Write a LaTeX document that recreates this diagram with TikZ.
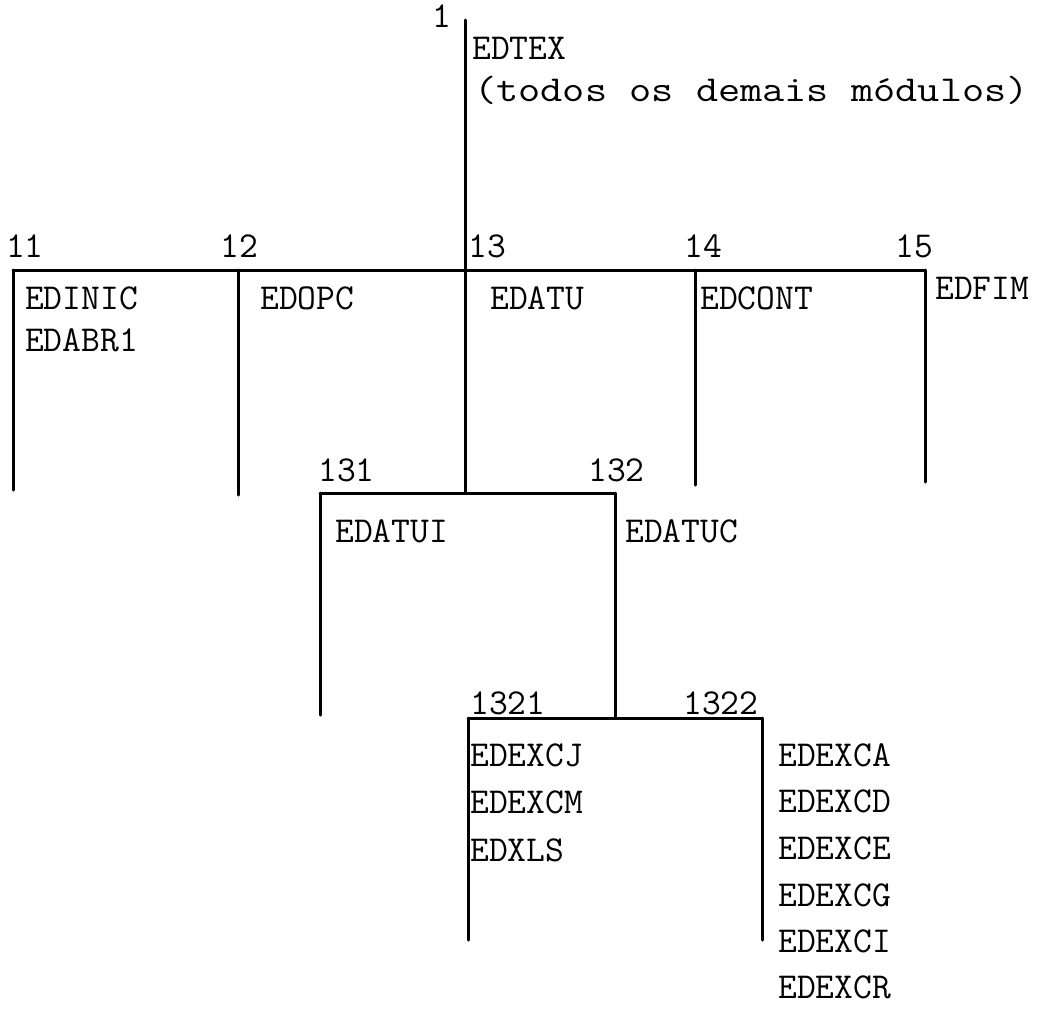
\documentclass[tikz,border=0pt]{standalone}
\begin{document}
\begin{tikzpicture}[x=1pt,y=-1pt,
  lbl/.style={font=\ttfamily\fontsize{36.5}{36.5}\selectfont, inner sep=0pt, anchor=west},
  ln/.style={line width=3pt, line cap=round}]
\useasboundingbox (0,0) rectangle (1040,1009);
% junction coordinates
\coordinate (t1) at (465,20);
\coordinate (j1) at (465,270);
\coordinate (h11) at (13,270);
\coordinate (h12) at (238,270);
\coordinate (h14) at (695,270);
\coordinate (h15) at (925,270);
\coordinate (e11) at (13,490);
\coordinate (e12) at (238,495);
\coordinate (e14) at (695,485);
\coordinate (e15) at (925,482);
\coordinate (j13) at (465,493);
\coordinate (h131) at (320,493);
\coordinate (h132) at (615,493);
\coordinate (e131) at (320,715);
\coordinate (j132) at (615,718);
\coordinate (h1321) at (468,718);
\coordinate (h1322) at (762,718);
\coordinate (e1321) at (468,940);
\coordinate (e1322) at (762,940);
% lines
\draw[ln] (t1) -- (j1) -- (j13);
\draw[ln] (h11) -- (h15);
\draw[ln] (h11) -- (e11);
\draw[ln] (h12) -- (e12);
\draw[ln] (h14) -- (e14);
\draw[ln] (h15) -- (e15);
\draw[ln] (h131) -- (h132);
\draw[ln] (h131) -- (e131);
\draw[ln] (h132) -- (j132);
\draw[ln] (h1321) -- (h1322);
\draw[ln] (h1321) -- (e1321);
\draw[ln] (h1322) -- (e1322);
% labels
\node[lbl] (n1) at (432,16) {1};
\node[lbl] (edtex) at (472,48) {EDTEX};
\node[lbl] (todos) at (474,90) {\scalebox{1.18}[1]{(todos os demais módulos)}};
\node[lbl] (n11) at (6,246) {11};
\node[lbl] (n12) at (220,246) {12};
\node[lbl] (n13) at (468,246) {13};
\node[lbl] (n14) at (684,246) {14};
\node[lbl] (n15) at (895,246) {15};
\node[lbl] (edinic) at (25,298) {EDINIC};
\node[lbl] (edabr) at (25,340) {EDABR1};
\node[lbl] (edopc) at (260,298) {EDOPC};
\node[lbl] (edatu) at (490,298) {EDATU};
\node[lbl] (edcont) at (700,298) {EDCONT};
\node[lbl] (edfim) at (935,288) {EDFIM};
\node[lbl] (n131) at (318,470) {131};
\node[lbl] (n132) at (588,470) {132};
\node[lbl] (edatui) at (335,531) {EDATUI};
\node[lbl] (edatuc) at (625,531) {EDATUC};
\node[lbl] (n1321) at (470,703) {1321};
\node[lbl] (n1322) at (683,703) {1322};
\node[lbl] (edexcj) at (470,755) {EDEXCJ};
\node[lbl] (edexcm) at (470,802) {EDEXCM};
\node[lbl] (edxls) at (470,850) {EDXLS};
\node[lbl] (edexca) at (778,755) {EDEXCA};
\node[lbl] (edexcd) at (778,801) {EDEXCD};
\node[lbl] (edexce) at (778,848) {EDEXCE};
\node[lbl] (edexcg) at (778,895) {EDEXCG};
\node[lbl] (edexci) at (778,941) {EDEXCI};
\node[lbl] (edexcr) at (778,987) {EDEXCR};
\end{tikzpicture}
\end{document}
